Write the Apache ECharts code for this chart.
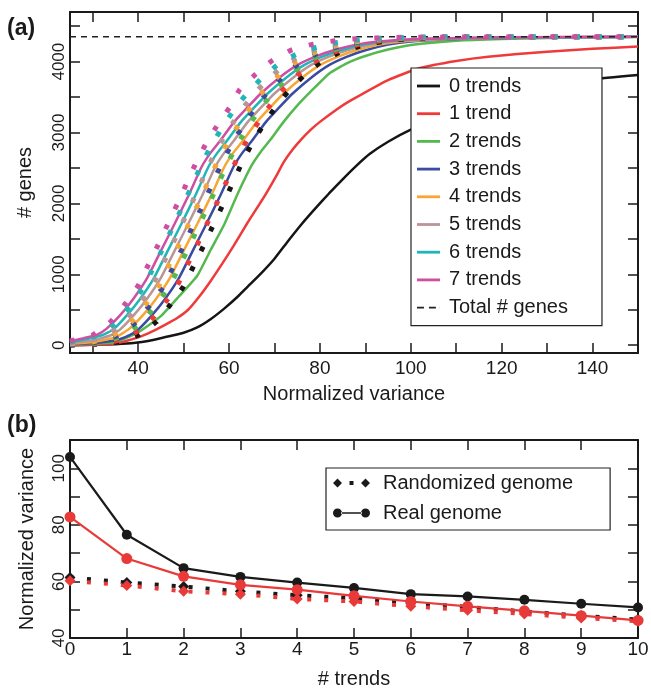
<!DOCTYPE html>
<html>
<head>
<meta charset="utf-8">
<script src="https://cdn.jsdelivr.net/npm/echarts@6/dist/echarts.min.js"></script>
<style>
  html, body { margin: 0; padding: 0; background: #fff; }
  #chart { width: 651px; height: 690px; }
</style>
</head>
<body>
<div id="chart"></div>
<script>
// ---- panel (a): # genes vs normalized variance, pairs [variance, genes]
const trends0 = [[25,0],[30,5],[35,15],[39,30],[43,70],[46,115],[50,175],[53,250],[56,370],[59,520],[62,690],[64,820],[67,1010],[70,1220],[73,1470],[76,1710],[79,1930],[82,2140],[85,2340],[88,2530],[91,2700],[95,2870],[100,3040],[110,3320],[120,3510],[130,3650],[140,3750],[150,3810]];
const trends1 = [[25,0],[30,5],[35,25],[40,110],[43,190],[46,290],[48.5,380],[51,500],[53.5,690],[56,910],[58.5,1150],[61,1400],[64,1720],[67.5,2070],[70.5,2400],[72,2580],[74,2760],[76,2910],[78,3040],[80,3150],[84,3340],[87,3460],[95,3740],[102,3910],[110,4010],[117,4070],[130,4140],[140,4180],[150,4215]];
const trends2 = [[25,10],[30,20],[35,45],[40,180],[45,410],[49,690],[53,980],[56,1350],[59,1710],[62,2150],[65,2540],[67,2730],[69,2890],[72,3150],[75,3380],[78,3580],[82,3830],[86,3980],[90,4080],[95,4170],[100,4235],[110,4295],[120,4320],[135,4340],[150,4348]];
const trends3 = [[25,15],[30,30],[35,70],[38,140],[40,220],[43,420],[46,660],[49,950],[52,1330],[55,1710],[58,2100],[61,2520],[63,2720],[65,2880],[68,3140],[71,3350],[74,3550],[78,3770],[82,3950],[86,4070],[90,4160],[95,4240],[100,4285],[110,4320],[120,4335],[135,4345],[150,4350]];
const trends4 = [[25,20],[30,45],[35,110],[38,230],[41,420],[44,660],[47,950],[50,1330],[53,1710],[56,2100],[59,2520],[61,2720],[63,2880],[66,3140],[69,3350],[72,3550],[76,3770],[80,3950],[84,4070],[88,4160],[93,4240],[98,4285],[108,4320],[120,4338],[135,4346],[150,4350]];
const trends5 = [[25,30],[30,65],[34,140],[36,220],[39,420],[42,660],[45,950],[48,1330],[51,1710],[54,2100],[57,2520],[59,2720],[61,2880],[64,3140],[67,3350],[70,3550],[74,3770],[78,3950],[82,4070],[86,4160],[91,4240],[96,4285],[106,4320],[120,4340],[150,4350]];
const trends6 = [[25,40],[29,90],[32,140],[34.5,220],[37.5,420],[40.5,660],[43.5,950],[46.5,1330],[49.5,1710],[52.5,2100],[55.5,2520],[57.5,2720],[59.5,2880],[62.5,3140],[65.5,3350],[68.5,3550],[72.5,3770],[76.5,3950],[80.5,4070],[84.5,4160],[89.5,4240],[94.5,4285],[105,4322],[120,4340],[150,4350]];
const trends7 = [[25,55],[28,100],[31,150],[33,230],[36,420],[39,660],[42,950],[45,1330],[48,1710],[51,2100],[54,2520],[56,2720],[58,2880],[61,3140],[64,3350],[67,3550],[71,3770],[75,3950],[79,4070],[83,4160],[88,4240],[93,4285],[103,4322],[120,4342],[150,4350]];

// dotted curves (randomized genome), same colour order
const rand0 = [[25,0],[30,10],[35,40],[40,140],[44,330],[47,565],[50,830],[52,1090],[54.3,1390],[56.2,1650],[58.7,1990],[60.6,2260],[62.6,2540],[65,2840],[68,3150],[70.5,3380],[73,3578],[76.5,3805],[80.2,3993],[84.4,4130],[90,4240],[95,4295],[100,4325],[110,4345],[150,4352]];
const rand1 = [[25,5],[30,15],[35,60],[38.5,140],[42.5,330],[45.5,565],[48.5,830],[50.5,1090],[52.8,1390],[54.7,1650],[57.2,1990],[59.1,2260],[61.1,2540],[63.5,2840],[66.5,3150],[69,3380],[71.5,3578],[75,3805],[78.7,3993],[82.9,4130],[88.5,4240],[93.5,4295],[98.5,4325],[108.5,4345],[150,4352]];
const rand2 = [[25,10],[30,25],[31.9,40],[36.9,140],[40.9,330],[43.9,565],[46.9,830],[48.9,1090],[51.2,1390],[53.1,1650],[55.6,1990],[57.5,2260],[59.5,2540],[61.9,2840],[64.9,3150],[67.4,3380],[69.9,3578],[73.4,3805],[77.1,3993],[81.3,4130],[86.9,4240],[91.9,4295],[96.9,4325],[106.9,4345],[150,4352]];
const rand3 = [[25,15],[30.6,40],[35.6,140],[39.6,330],[42.6,565],[45.6,830],[47.6,1090],[49.9,1390],[51.8,1650],[54.3,1990],[56.2,2260],[58.2,2540],[60.6,2840],[63.6,3150],[66.1,3380],[68.6,3578],[72.1,3805],[75.8,3993],[80,4130],[85.6,4240],[90.6,4295],[95.6,4325],[105.6,4345],[150,4352]];
const rand4 = [[25,20],[29.5,40],[34.5,140],[38.5,330],[41.5,565],[44.5,830],[46.5,1090],[48.8,1390],[50.7,1650],[53.2,1990],[55.1,2260],[57.1,2540],[59.5,2840],[62.5,3150],[65,3380],[67.5,3578],[71,3805],[74.7,3993],[78.9,4130],[84.5,4240],[89.5,4295],[94.5,4325],[104.5,4345],[150,4352]];
const rand5 = [[25,30],[28,40],[33,140],[37,330],[40,565],[43,830],[45,1090],[47.3,1390],[49.2,1650],[51.7,1990],[53.6,2260],[55.6,2540],[58,2840],[61,3150],[63.5,3380],[66,3578],[69.5,3805],[73.2,3993],[77.4,4130],[83,4240],[88,4295],[93,4325],[103,4345],[150,4352]];
const rand6 = [[25,40],[31.3,140],[35.3,330],[38.3,565],[41.3,830],[43.3,1090],[45.6,1390],[47.5,1650],[50,1990],[51.9,2260],[53.9,2540],[56.3,2840],[59.3,3150],[61.8,3380],[64.3,3578],[67.8,3805],[71.5,3993],[75.7,4130],[81.3,4240],[86.3,4295],[91.3,4325],[101.3,4345],[150,4352]];
const rand7 = [[25,60],[29.9,140],[33.9,330],[36.9,565],[39.9,830],[41.9,1090],[44.2,1390],[46.1,1650],[48.6,1990],[50.5,2260],[52.5,2540],[54.9,2840],[57.9,3150],[60.4,3380],[62.4,3610],[65.7,3814],[69.6,4020],[73.8,4165],[78.5,4247],[83.3,4294],[88,4322],[98,4343],[150,4352]];

const totalGenes = 4350;
const trendNames = ['0 trends', '1 trend', '2 trends', '3 trends', '4 trends', '5 trends', '6 trends', '7 trends'];
const xTicksA = [30, 40, 50, 60, 70, 80, 90, 100, 110, 120, 130, 140];
const xLabelsA = [40, 60, 80, 100, 120, 140];
const yTicksA = [0, 500, 1000, 1500, 2000, 2500, 3000, 3500, 4000, 4500];
const yLabelsA = [0, 1000, 2000, 3000, 4000];

// ---- panel (b): normalized variance vs # trends
const trendsB = [0, 1, 2, 3, 4, 5, 6, 7, 8, 9, 10];
const realBlack = [104.0, 76.5, 64.7, 61.6, 59.6, 57.7, 55.5, 54.7, 53.5, 52.1, 50.8];
const realRed = [82.8, 68.1, 61.8, 58.8, 57.1, 54.9, 52.9, 51.2, 49.6, 47.9, 46.2];
const randBlack = [61.4, 59.6, 58.2, 56.5, 55.1, 54.1, 52.4, 51.0, 49.4, 47.9, 46.5];
const randRed = [60.2, 58.6, 56.5, 55.5, 53.8, 52.9, 51.2, 49.8, 48.5, 47.1, 45.9];

const colors = ['#151515', '#ee3a3a', '#55b94f', '#3b4b9f', '#f7a633', '#b89597', '#20b6b7', '#cf4ea2'];
const redB = '#e93a3a';
const font = 'Liberation Sans, Arial, sans-serif';
const ink = '#1a1a1a';
const lineIcon = 'path://M0,0H23V2.8H0Z';
const dashIcon = 'path://M0,0H7V1.6H0Z M12,0H19V1.6H12Z M23,0H23.1V1.6H23Z';

const chart = echarts.init(document.getElementById('chart'));

function frameAxis(grid, pos, min, max, extra) {
  return Object.assign({
    type: 'value', gridIndex: grid, position: pos, min: min, max: max,
    axisLine: { show: true, onZero: false, lineStyle: { color: ink, width: 2 } },
    axisTick: { show: true, inside: true, length: 10, lineStyle: { color: ink, width: 1.5 } },
    axisLabel: { show: false },
    splitLine: { show: false }
  }, extra);
}

const series = [];
[trends0, trends1, trends2, trends3, trends4, trends5, trends6, trends7].forEach((d, i) => {
  series.push({
    name: trendNames[i], type: 'line', xAxisIndex: 0, yAxisIndex: 0,
    data: d, symbol: 'none', smooth: 0.15,
    lineStyle: { color: colors[i], width: 2.5 }, itemStyle: { color: colors[i] }
  });
});
series.push({
  name: 'Total # genes', type: 'line', xAxisIndex: 0, yAxisIndex: 0,
  data: [[25, totalGenes], [150, totalGenes]], symbol: 'none',
  lineStyle: { color: '#222', width: 1.5, type: [6, 5] }, itemStyle: { color: '#222' }
});
[rand0, rand1, rand2, rand3, rand4, rand5, rand6, rand7].forEach((d, i) => {
  series.push({
    name: 'randomized ' + i, type: 'line', xAxisIndex: 0, yAxisIndex: 0,
    data: d, symbol: 'none', smooth: 0.15,
    lineStyle: { color: colors[i], width: 5, type: [5, 17], cap: 'butt' }
  });
});

const pairs = (vals) => vals.map((v, i) => [trendsB[i], v]);
const dotted = (name, vals, color) => ({
  name: name, type: 'line', xAxisIndex: 2, yAxisIndex: 2, data: pairs(vals),
  symbol: 'diamond', symbolSize: 11,
  lineStyle: { color: color, width: 4, type: [4, 13], cap: 'butt' }, itemStyle: { color: color }
});
const solid = (name, vals, color, size) => ({
  name: name, type: 'line', xAxisIndex: 2, yAxisIndex: 2, data: pairs(vals),
  symbol: 'circle', symbolSize: size,
  lineStyle: { color: color, width: 2.2 }, itemStyle: { color: color }
});
series.push(dotted('Randomized genome', randBlack, ink));
series.push(dotted('Randomized genome (2)', randRed, redB));
series.push(solid('Real genome', realBlack, ink, 10));
series.push(solid('Real genome (2)', realRed, redB, 11));

const legendA = trendNames.map((n) => ({ name: n, icon: lineIcon }));
legendA.push({ name: 'Total # genes', icon: dashIcon });

const option = {
  animation: false,
  backgroundColor: '#fff',
  textStyle: { fontFamily: font, color: ink },
  title: [
    { text: '{n|(}{b|a}{n|)}', left: 7, top: 17, padding: 0,
      textStyle: { rich: { n: { fontSize: 23, fontFamily: font, color: ink }, b: { fontSize: 23, fontWeight: 'bold', fontFamily: font, color: ink } } } },
    { text: '{n|(}{b|b}{n|)}', left: 7, top: 414, padding: 0,
      textStyle: { rich: { n: { fontSize: 23, fontFamily: font, color: ink }, b: { fontSize: 23, fontWeight: 'bold', fontFamily: font, color: ink } } } }
  ],
  grid: [
    { left: 70, right: 13, top: 12, bottom: 337, outerBoundsMode: 'none' },
    { left: 70, right: 13, top: 440, bottom: 52, outerBoundsMode: 'none' }
  ],
  // white margin right of the legend box, as in the original figure
  graphic: [
    { type: 'rect', z: 3, shape: { x: 603, y: 69, width: 14, height: 256 }, style: { fill: '#fff' } }
  ],
  legend: [
    {
      data: legendA,
      left: 411, top: 68, orient: 'vertical',
      itemWidth: 23, itemHeight: 14, itemGap: 7.7,
      padding: [8, 34, 8, 6],
      backgroundColor: '#fff', borderColor: '#222', borderWidth: 1.2, borderRadius: 0,
      selectedMode: false,
      textStyle: { fontSize: 20, fontFamily: font, color: ink, lineHeight: 20, padding: [0, 0, 0, 4] }
    },
    {
      data: [
        { name: 'Randomized genome', icon: 'path://M0,5L4.5,0.5L9,5L4.5,9.5Z M16.5,3H20.5V7H16.5Z M28,5L32.5,0.5L37,5L32.5,9.5Z' },
        { name: 'Real genome', icon: 'path://M0,5A4.5,4.5 0 1,0 9,5A4.5,4.5 0 1,0 0,5Z M8,4.2H29V5.8H8Z M28,5A4.5,4.5 0 1,0 37,5A4.5,4.5 0 1,0 28,5Z' }
      ],
      left: 326, top: 468, orient: 'vertical',
      itemWidth: 37, itemHeight: 10, itemGap: 10,
      padding: [5, 37, 7, 7],
      backgroundColor: '#fff', borderColor: '#222', borderWidth: 1.2, borderRadius: 0,
      selectedMode: false,
      textStyle: { fontSize: 20, fontFamily: font, color: ink, lineHeight: 20, padding: [0, 0, 0, 8] }
    }
  ],
  xAxis: [
    frameAxis(0, 'bottom', 25, 150, {
      axisTick: { show: true, inside: true, length: 10, customValues: xTicksA, lineStyle: { color: ink, width: 1.5 } },
      axisLabel: { show: true, customValues: xLabelsA, fontSize: 19, margin: 6, color: ink, fontFamily: font, formatter: (v) => String(v) },
      name: 'Normalized variance', nameLocation: 'middle', nameGap: 31,
      nameTextStyle: { fontSize: 20, fontFamily: font, color: ink }
    }),
    frameAxis(0, 'top', 25, 150, {
      axisTick: { show: true, inside: true, length: 10, customValues: xTicksA, lineStyle: { color: ink, width: 1.5 } }
    }),
    frameAxis(1, 'bottom', 0, 10, {
      interval: 1,
      axisLabel: { show: true, fontSize: 19, margin: 2, color: ink, fontFamily: font, formatter: (v) => String(v) },
      name: '# trends', nameLocation: 'middle', nameGap: 31,
      nameTextStyle: { fontSize: 20, fontFamily: font, color: ink }
    }),
    frameAxis(1, 'top', 0, 10, { interval: 1 })
  ],
  yAxis: [
    frameAxis(0, 'left', -110, 4700, {
      axisTick: { show: true, inside: true, length: 10, customValues: yTicksA, lineStyle: { color: ink, width: 1.5 } },
      axisLabel: { show: true, customValues: yLabelsA, rotate: 90, fontSize: 17, margin: 2, color: ink, fontFamily: font, formatter: (v) => String(v) },
      name: '# genes', nameLocation: 'middle', nameGap: 35,
      nameTextStyle: { fontSize: 20, fontFamily: font, color: ink }
    }),
    frameAxis(0, 'right', -110, 4700, {
      axisTick: { show: true, inside: true, length: 10, customValues: yTicksA, lineStyle: { color: ink, width: 1.5 } }
    }),
    frameAxis(1, 'left', 40, 110, {
      interval: 10,
      axisLabel: { show: true, rotate: 90, fontSize: 17, margin: 2, color: ink, fontFamily: font,
        formatter: (v) => (v % 20 === 0 && v <= 100 ? String(v) : '') },
      name: 'Normalized variance', nameLocation: 'middle', nameGap: 33,
      nameTextStyle: { fontSize: 20, fontFamily: font, color: ink }
    }),
    frameAxis(1, 'right', 40, 110, { interval: 10 })
  ],
  series: series
};

chart.setOption(option);
</script>
</body>
</html>
